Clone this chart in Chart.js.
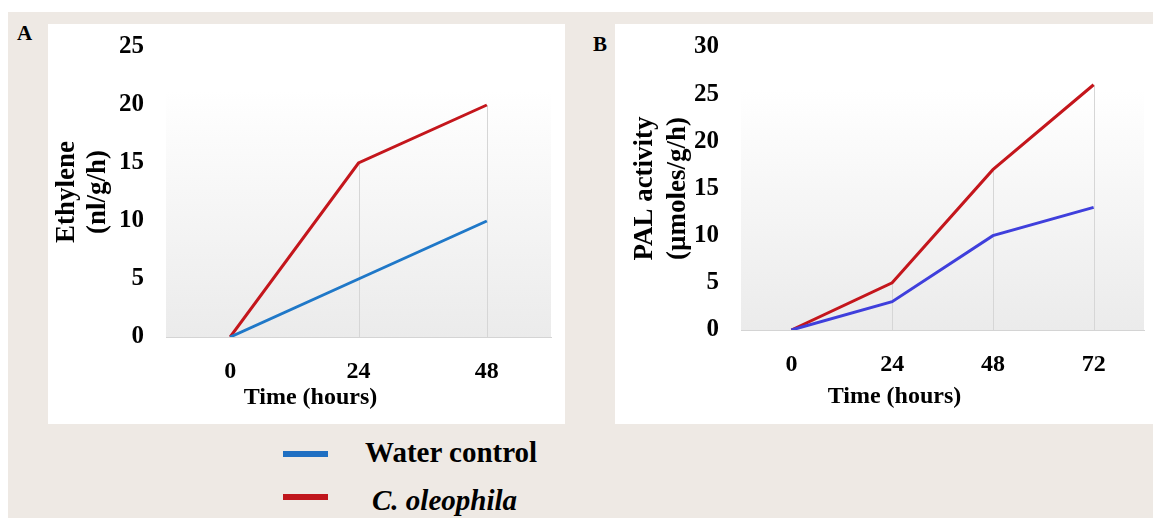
<!DOCTYPE html>
<html>
<head>
<meta charset="utf-8">
<script src="https://cdn.jsdelivr.net/npm/chart.js@4.4.1/dist/chart.umd.min.js"></script>
<style>
  body{margin:0;width:1153px;height:518px;overflow:hidden;background:#fff;position:relative;font-family:"Liberation Serif","Times New Roman",serif;}
  #bg{position:absolute;left:8px;top:12px;right:0;bottom:0;background:#eee9e4;}
  .panel{position:absolute;top:24px;height:400px;background:#fff;}
  #pA{left:48px;width:517px;}
  #pB{left:615px;width:538px;}
  .tag{position:absolute;font-weight:bold;font-size:21px;line-height:21px;color:#000;}
  .key{position:absolute;left:283px;width:45px;height:6px;}
  .keytxt{position:absolute;font-weight:bold;font-size:29px;line-height:30px;color:#000;}
</style>
</head>
<body>
<div id="bg"></div>
<div class="tag" style="left:17px;top:23px">A</div>
<div class="tag" style="left:593px;top:34px">B</div>
<div class="panel" id="pA"><canvas id="chartA"></canvas></div>
<div class="panel" id="pB"><canvas id="chartB"></canvas></div>

<div class="key" style="top:451px;background:#1f6fc2"></div>
<div class="keytxt" style="left:365px;top:437px">Water control</div>
<div class="key" style="top:494px;background:#c0161c"></div>
<div class="keytxt" style="left:372px;top:485px;font-style:italic">C. oleophila</div>

<script>
// chart values
const timesA = ['0', '24', '48'];
const waterA = [0, 5, 10];
const oleoA = [0, 15, 20];

const timesB = ['0', '24', '48', '72'];
const waterB = [0, 3, 10, 13];
const oleoB = [0, 5, 17, 26];

const yMaxA = 25;
const yMaxB = 30;
const yStep = 5;

const serif = '"Liberation Serif", "Times New Roman", serif';
// the x title sits left of the plot centre in the original, trailing em spaces push it over
const xTitle = 'Time (hours)' + '\u2003'.repeat(4);

// plot area shading, white on top to light gray at the axis
const plotFill = {
  id: 'plotFill',
  beforeDraw(chart){
    const {ctx, chartArea:a} = chart;
    const g = ctx.createLinearGradient(0, a.top, 0, a.bottom);
    g.addColorStop(0, '#ffffff');
    g.addColorStop(0.15, '#ffffff');
    g.addColorStop(1, '#ebebeb');
    ctx.save();
    ctx.fillStyle = g;
    ctx.fillRect(a.left, a.top, a.right - a.left, a.bottom - a.top);
    ctx.restore();
  }
};

// excel style drop lines from the highest point down to zero
const dropLines = {
  id: 'dropLines',
  beforeDatasetsDraw(chart){
    const ctx = chart.ctx, xs = chart.scales.x, ys = chart.scales.y;
    ctx.save();
    ctx.strokeStyle = '#d6d6d6';
    ctx.lineWidth = 1;
    chart.data.labels.forEach((l, i)=>{
      const top = Math.max(...chart.data.datasets.map(d=>d.data[i]));
      if(top <= 0) return;
      const px = Math.round(xs.getPixelForValue(i)) + 0.5;
      ctx.beginPath();
      ctx.moveTo(px, ys.getPixelForValue(top));
      ctx.lineTo(px, ys.getPixelForValue(0));
      ctx.stroke();
    });
    ctx.restore();
  }
};

function makeChart(id, labels, water, oleo, waterColor, yMax, yTitle, lay){
  const ctx = document.getElementById(id).getContext('2d');
  return new Chart(ctx, {
    type: 'line',
    data: {
      labels: labels,
      datasets: [
        {label:'Water control', data:water, borderColor:waterColor, borderWidth:3, pointRadius:0, tension:0, fill:false},
        {label:'C. oleophila', data:oleo, borderColor:'#c4161c', borderWidth:3, pointRadius:0, tension:0, fill:false}
      ]
    },
    options: {
      responsive: true,
      maintainAspectRatio: false,
      animation: false,
      layout: {padding: {left:0, top:23, right:lay.right, bottom:0}},
      plugins: {legend:{display:false}, tooltip:{enabled:false}},
      scales: {
        x: {
          offset: true,
          grid: {display:false, drawTicks:false},
          border: {display:true, color:'#d4d4d4', width:1},
          ticks: {padding:20, color:'#000', maxRotation:0, font:{family:serif, size:24, weight:'bold'}},
          title: {display:true, text:xTitle, color:'#000',
                  font:{family:serif, size:24, weight:'bold', lineHeight:1.2},
                  padding:{top:0, bottom:lay.xTitlePad}},
          afterFit(s){ s.height = lay.xHeight; }
        },
        y: {
          min: 0, max: yMax,
          grid: {display:false, drawTicks:false},
          border: {display:false},
          ticks: {stepSize:yStep, padding:22, color:'#000', font:{family:serif, size:25, weight:'bold'}},
          title: {display:true, text:yTitle, color:'#000',
                  font:{family:serif, size:27, weight:'bold', lineHeight:lay.titleLH},
                  padding:{top:lay.yTitlePad, bottom:0}},
          afterFit(s){
            s.width = lay.yWidth;
            // let the layout padding alone decide where the plot top is
            s.paddingTop = 0;
            s.paddingBottom = 0;
          }
        }
      }
    },
    plugins: [plotFill, dropLines]
  });
}

makeChart('chartA', timesA, waterA, oleoA, '#1f78c8', yMaxA, ['Ethylene', '(nl/g/h)'],
  {right:14, xHeight:87, xTitlePad:11.6, yWidth:118, titleLH:1.15, yTitlePad:3.5});
makeChart('chartB', timesB, waterB, oleoB, '#3f3fdc', yMaxB, ['PAL activity', '(µmoles/g/h)'],
  {right:9, xHeight:94, xTitlePad:12.6, yWidth:126, titleLH:1.22, yTitlePad:13.5});
</script>
</body>
</html>
